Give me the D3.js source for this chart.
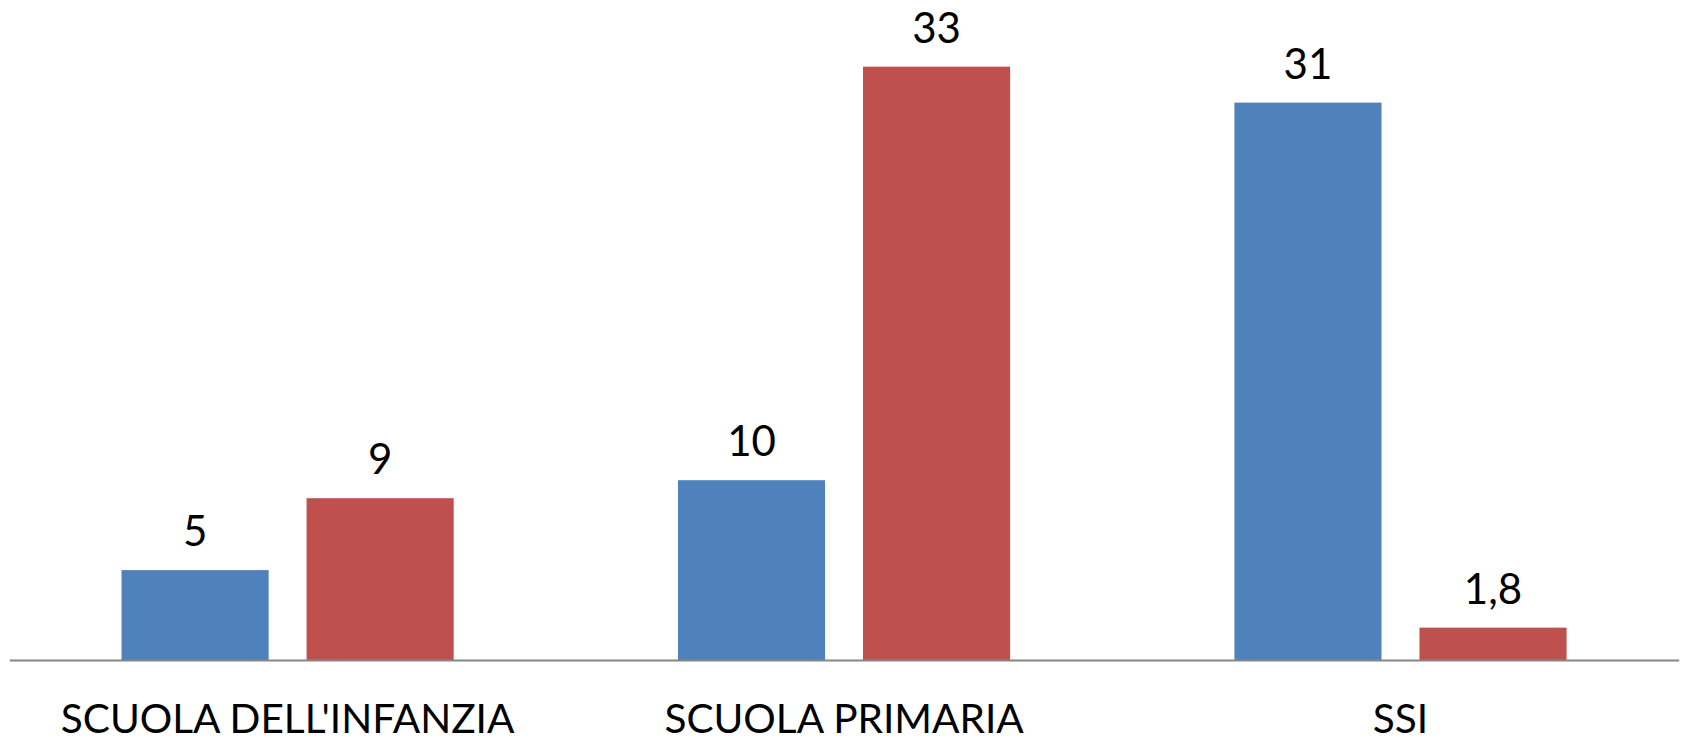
<!DOCTYPE html>
<html>
<head>
<meta charset="utf-8">
<script src="https://cdn.jsdelivr.net/npm/d3@7"></script>
<style>
  html, body { margin: 0; padding: 0; background: #fff; }
  svg { display: block; }
</style>
</head>
<body>
<svg id="chart" width="1683" height="742"></svg>
<script>
const categories = ["SCUOLA DELL'INFANZIA", "SCUOLA PRIMARIA", "SSI"];
const seriesNames = ["Serie 1", "Serie 2"];
const series1 = [5, 10, 31];
const series2 = [9, 33, 1.8];
const valueLabels1 = ["5", "10", "31"];
const valueLabels2 = ["9", "33", "1,8"];
const colors = ["#4F81BD", "#C0504D"];

const svg = d3.select("#chart");
const baseY = 660;
const font = "Lato, 'Open Sans', sans-serif";

const x0 = d3.scaleBand().domain(categories).range([9.4, 1678.7]).paddingInner(0).paddingOuter(0);
const x1 = d3.scaleBand().domain(seriesNames).range([0, x0.bandwidth()]).paddingInner(0.205).paddingOuter(0.606);
const y = d3.scaleLinear().domain([0, 35]).range([baseY, baseY - 35 * 17.98]);

const rows = categories.map((c, i) => ({
  cat: c,
  vals: [
    { s: seriesNames[0], v: series1[i], lab: valueLabels1[i], col: colors[0] },
    { s: seriesNames[1], v: series2[i], lab: valueLabels2[i], col: colors[1] }
  ]
}));

const groups = svg.selectAll("g.grp").data(rows).join("g")
  .attr("class", "grp")
  .attr("transform", d => `translate(${x0(d.cat)},0)`);

groups.selectAll("rect").data(d => d.vals).join("rect")
  .attr("x", d => x1(d.s))
  .attr("width", x1.bandwidth())
  .attr("y", d => y(d.v))
  .attr("height", d => baseY - y(d.v))
  .attr("fill", d => d.col);

groups.selectAll("text.val").data(d => d.vals).join("text")
  .attr("class", "val")
  .attr("x", d => x1(d.s) + x1.bandwidth() / 2)
  .attr("y", d => y(d.v) - 24)
  .attr("text-anchor", "middle")
  .attr("font-family", font)
  .attr("font-size", 42)
  .attr("fill", "#000")
  .text(d => d.lab);

const axis = svg.append("g")
  .attr("transform", `translate(0,${baseY})`)
  .call(d3.axisBottom(x0).tickSize(0).tickSizeOuter(0));
axis.select(".domain").attr("stroke", "#868686").attr("stroke-width", 2);
axis.selectAll(".tick text")
  .attr("y", 73).attr("dy", 0)
  .attr("font-family", font)
  .attr("font-size", 40.6)
  .attr("fill", "#000");
</script>
</body>
</html>
